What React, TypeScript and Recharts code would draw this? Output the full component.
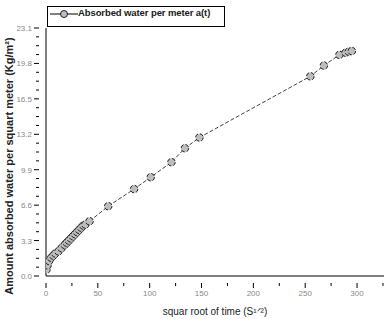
import React from "react";
import { ComposedChart, Line, XAxis, YAxis, Legend } from "recharts";

const sqrtTime = [0.5, 1.5, 3, 5, 7, 9, 12, 15, 18, 20, 22, 24, 26, 28, 30, 32, 34, 36, 38, 42, 60, 85, 101, 121, 134, 148, 255, 268, 283, 289, 292, 295];
const absorbed = [0.6, 1.0, 1.4, 1.7, 1.9, 2.1, 2.3, 2.6, 2.9, 3.1, 3.3, 3.5, 3.7, 3.9, 4.1, 4.3, 4.5, 4.7, 4.8, 5.1, 6.5, 8.1, 9.2, 10.6, 11.9, 12.9, 18.6, 19.6, 20.6, 20.8, 20.9, 20.95];
const yMajorTicks = [0, 3.3, 6.6, 9.9, 13.2, 16.5, 19.8, 23.1];
const xMajorTicks = [0, 50, 100, 150, 200, 250, 300];
const seriesName = "Absorbed water per meter a(t)";

const data = sqrtTime.map((x, i) => ({ x, y: absorbed[i] }));

const yTicks: number[] = [];
for (let i = 0; i < yMajorTicks.length - 1; i++) {
  for (let k = 0; k < 4; k++) yTicks.push(+(yMajorTicks[i] + (k * 3.3) / 4).toFixed(3));
}
yTicks.push(23.1);
const xTicks: number[] = [];
for (let v = 0; v <= 325; v += 25) xTicks.push(v);

const font = "'Liberation Sans', Arial, sans-serif";

const YTick = (props: any) => {
  const { x, y, payload } = props;
  const v = payload.value;
  const major = yMajorTicks.some((m) => Math.abs(m - v) < 0.01);
  return (
    <g>
      <line x1={x + 1} x2={x + 1 - (major ? 5 : 3)} y1={y} y2={y} stroke="#000" strokeWidth={1} />
      {major && (
        <text x={x - 6} y={y + 3} textAnchor="end" fontSize={8} fill="#888" fontFamily={font}>
          {v.toFixed(1)}
        </text>
      )}
    </g>
  );
};

const XTick = (props: any) => {
  const { x, y, payload } = props;
  const v = payload.value;
  const major = xMajorTicks.includes(v);
  return (
    <g>
      <line x1={x} x2={x} y1={y - 1} y2={y - 1 + (major ? 5 : 3)} stroke="#000" strokeWidth={1} />
      {major && (
        <text x={x} y={y + 12} textAnchor="middle" fontSize={8} fill="#888" fontFamily={font}>
          {v}
        </text>
      )}
    </g>
  );
};

const LegendBox = () => (
  <div
    style={{
      width: 176,
      height: 19,
      border: "1.5px solid #000",
      background: "#fff",
      position: "relative",
      fontFamily: font,
    }}
  >
    <svg width={30} height={12} style={{ position: "absolute", left: 2, top: 1 }}>
      <line x1={0} x2={28} y1={6} y2={6} stroke="#000" strokeWidth={1} />
      <circle cx={14} cy={6} r={3.5} fill="#bdbdbd" stroke="#222" strokeWidth={1} />
    </svg>
    <span
      style={{
        position: "absolute",
        left: 30,
        top: 0,
        fontSize: 9.5,
        fontWeight: 600,
        color: "#1a1a1a",
        whiteSpace: "nowrap",
        letterSpacing: -0.1,
      }}
    >
      {seriesName}
    </span>
  </div>
);

export default function App() {
  return (
    <div style={{ position: "absolute", left: 0, top: 0, width: 388, height: 319, background: "#fff" }}>
      <style>{"body{margin:0}"}</style>
      <ComposedChart width={388} height={319} data={data} margin={{ top: 7, right: 4, left: 0, bottom: 0 }}>
        <XAxis
          dataKey="x"
          type="number"
          domain={[0, 326]}
          ticks={xTicks}
          interval={0}
          tick={<XTick />}
          tickLine={false}
          axisLine={{ stroke: "#000", strokeWidth: 1 }}
          height={43}
          allowDataOverflow
          label={{
            value: "squar root of time (S\u00B9\u141F\u00B2)",
            position: "insideBottom",
            offset: 4,
            fontSize: 10,
            fill: "#222",
            fontFamily: font,
          }}
        />
        <XAxis xAxisId="top" orientation="top" dataKey="x" type="number" domain={[0, 326]} height={0} tick={false} tickLine={false} axisLine={{ stroke: "#000", strokeWidth: 1 }} />
        <YAxis
          type="number"
          domain={[0, 23.1]}
          ticks={yTicks}
          interval={0}
          tick={<YTick />}
          tickLine={false}
          axisLine={{ stroke: "#000", strokeWidth: 1 }}
          width={46}
          allowDataOverflow
          label={{
            value: "Amount absorbed water per squart meter (Kg/m\u00B2)",
            angle: -90,
            position: "insideLeft",
            dx: 4,
            dy: 14,
            fontSize: 11,
            fill: "#222",
            fontWeight: 600,
            fontFamily: font,
            style: { textAnchor: "middle" },
          }}
        />
        <YAxis yAxisId="right" orientation="right" domain={[0, 23.1]} width={0} tick={false} tickLine={false} axisLine={{ stroke: "#000", strokeWidth: 2 }} />
        <Legend
          verticalAlign="top"
          align="left"
          content={<LegendBox />}
          wrapperStyle={{ top: 6, left: 47, width: 180 }}
        />
        <Line
          dataKey="y"
          name={seriesName}
          stroke="#111"
          strokeWidth={0.8}
          strokeDasharray="4 2"
          isAnimationActive={false}
          dot={{ r: 3.8, fill: "#bdbdbd", stroke: "#222", strokeWidth: 1 }}
        />
      </ComposedChart>
    </div>
  );
}
